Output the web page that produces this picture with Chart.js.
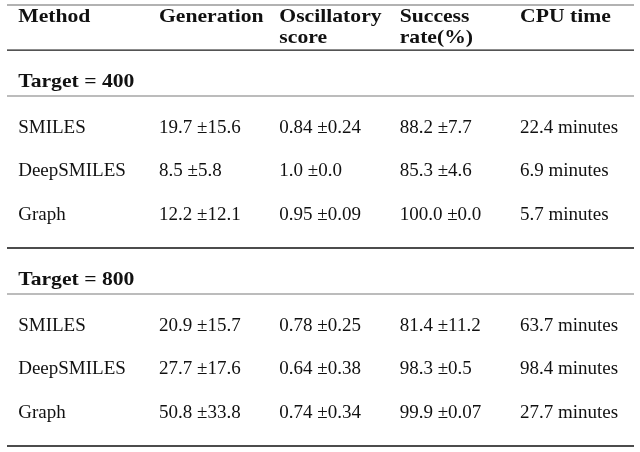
<!DOCTYPE html>
<html>
<head>
<meta charset="utf-8">
<script src="https://cdn.jsdelivr.net/npm/chart.js@4/dist/chart.umd.min.js"></script>
<style>
  html, body { margin: 0; padding: 0; background: #fff; }
  #wrap { width: 640px; height: 452px; }
</style>
</head>
<body>
<div id="wrap"><canvas id="table-chart"></canvas></div>
<script>
// table content
const columns = [['Method'], ['Generation'], ['Oscillatory', 'score'], ['Success', 'rate(%)'], ['CPU time']];
const targets = ['Target = 400', 'Target = 800'];
const methods = ['SMILES', 'DeepSMILES', 'Graph'];
const generation = [['19.7 ±15.6', '8.5 ±5.8', '12.2 ±12.1'], ['20.9 ±15.7', '27.7 ±17.6', '50.8 ±33.8']];
const oscillatory = [['0.84 ±0.24', '1.0 ±0.0', '0.95 ±0.09'], ['0.78 ±0.25', '0.64 ±0.38', '0.74 ±0.34']];
const success = [['88.2 ±7.7', '85.3 ±4.6', '100.0 ±0.0'], ['81.4 ±11.2', '98.3 ±0.5', '99.9 ±0.07']];
const cpuTime = [['22.4 minutes', '6.9 minutes', '5.7 minutes'], ['63.7 minutes', '98.4 minutes', '27.7 minutes']];

// layout, in column / row units of the scales
const colSlots = [-0.17, 1, 2, 3, 4];
const xMin = -0.263, xMax = 4.947;
const headBase = [0.39, 0.875];
const midRule = 1.04;

const regularFont = '19px "Liberation Serif", serif';
const boldFont = 'bold 19px "Liberation Serif", serif';
const ink = '#111';

// work out row positions from the table structure
let rules = [
    {y: 0, color: '#999', width: 1.6},
    {y: midRule, color: '#1a1a1a', width: 1.4},
];
let groupRows = [];
let g = midRule;
targets.forEach((t, k) => {
    let sub = g + 1.06;
    let rows = methods.map((m, r) => sub + 0.85 + r);
    groupRows.push({title: g + 0.86, rows: rows});
    rules.push({y: sub, color: '#7a7a7a', width: 1.1});
    g = rows[rows.length - 1] + 0.655;
    rules.push({y: g, color: '#111', width: 1.4});
});
const yMax = g;

const ruleSets = rules.map((r) => ({
    type: 'line',
    data: [{x: xMin, y: r.y}, {x: xMax, y: r.y}],
    borderColor: r.color,
    borderWidth: r.width,
    pointRadius: 0,
    clip: false,
}));

function drawBold(ctx, text, px, py) {
    ctx.save();
    ctx.font = boldFont;
    ctx.translate(px, py);
    ctx.scale(1.14, 1);
    ctx.fillText(text, 0, 0);
    ctx.restore();
}

const tableText = {
    id: 'tableText',
    afterDatasetsDraw(chart) {
        const ctx = chart.ctx;
        const x = chart.scales.x, y = chart.scales.y;
        ctx.save();
        ctx.fillStyle = ink;
        ctx.textAlign = 'left';
        ctx.textBaseline = 'alphabetic';

        //Header
        columns.forEach((lines, i) => {
            lines.forEach((t, j) => {
                drawBold(ctx, t, x.getPixelForValue(colSlots[i]), y.getPixelForValue(headBase[j]));
            });
        });

        //Groups
        const cols = [generation, oscillatory, success, cpuTime];
        groupRows.forEach((grp, k) => {
            drawBold(ctx, targets[k], x.getPixelForValue(colSlots[0]), y.getPixelForValue(grp.title));
            ctx.font = regularFont;
            grp.rows.forEach((rv, r) => {
                let py = y.getPixelForValue(rv);
                ctx.fillText(methods[r], x.getPixelForValue(colSlots[0]), py);
                cols.forEach((c, i) => {
                    ctx.fillText(c[k][r], x.getPixelForValue(colSlots[i + 1]), py);
                });
            });
        });
        ctx.restore();
    }
};

new Chart(document.getElementById('table-chart'), {
    type: 'line',
    data: {datasets: ruleSets},
    options: {
        responsive: true,
        maintainAspectRatio: false,
        animation: false,
        layout: {padding: {left: 7, right: 6, top: 5, bottom: 6}},
        scales: {
            x: {type: 'linear', min: xMin, max: xMax, display: false},
            y: {type: 'linear', min: 0, max: yMax, reverse: true, display: false},
        },
        plugins: {
            legend: {display: false},
            tooltip: {enabled: false},
        },
        events: [],
    },
    plugins: [tableText],
});
</script>
</body>
</html>
